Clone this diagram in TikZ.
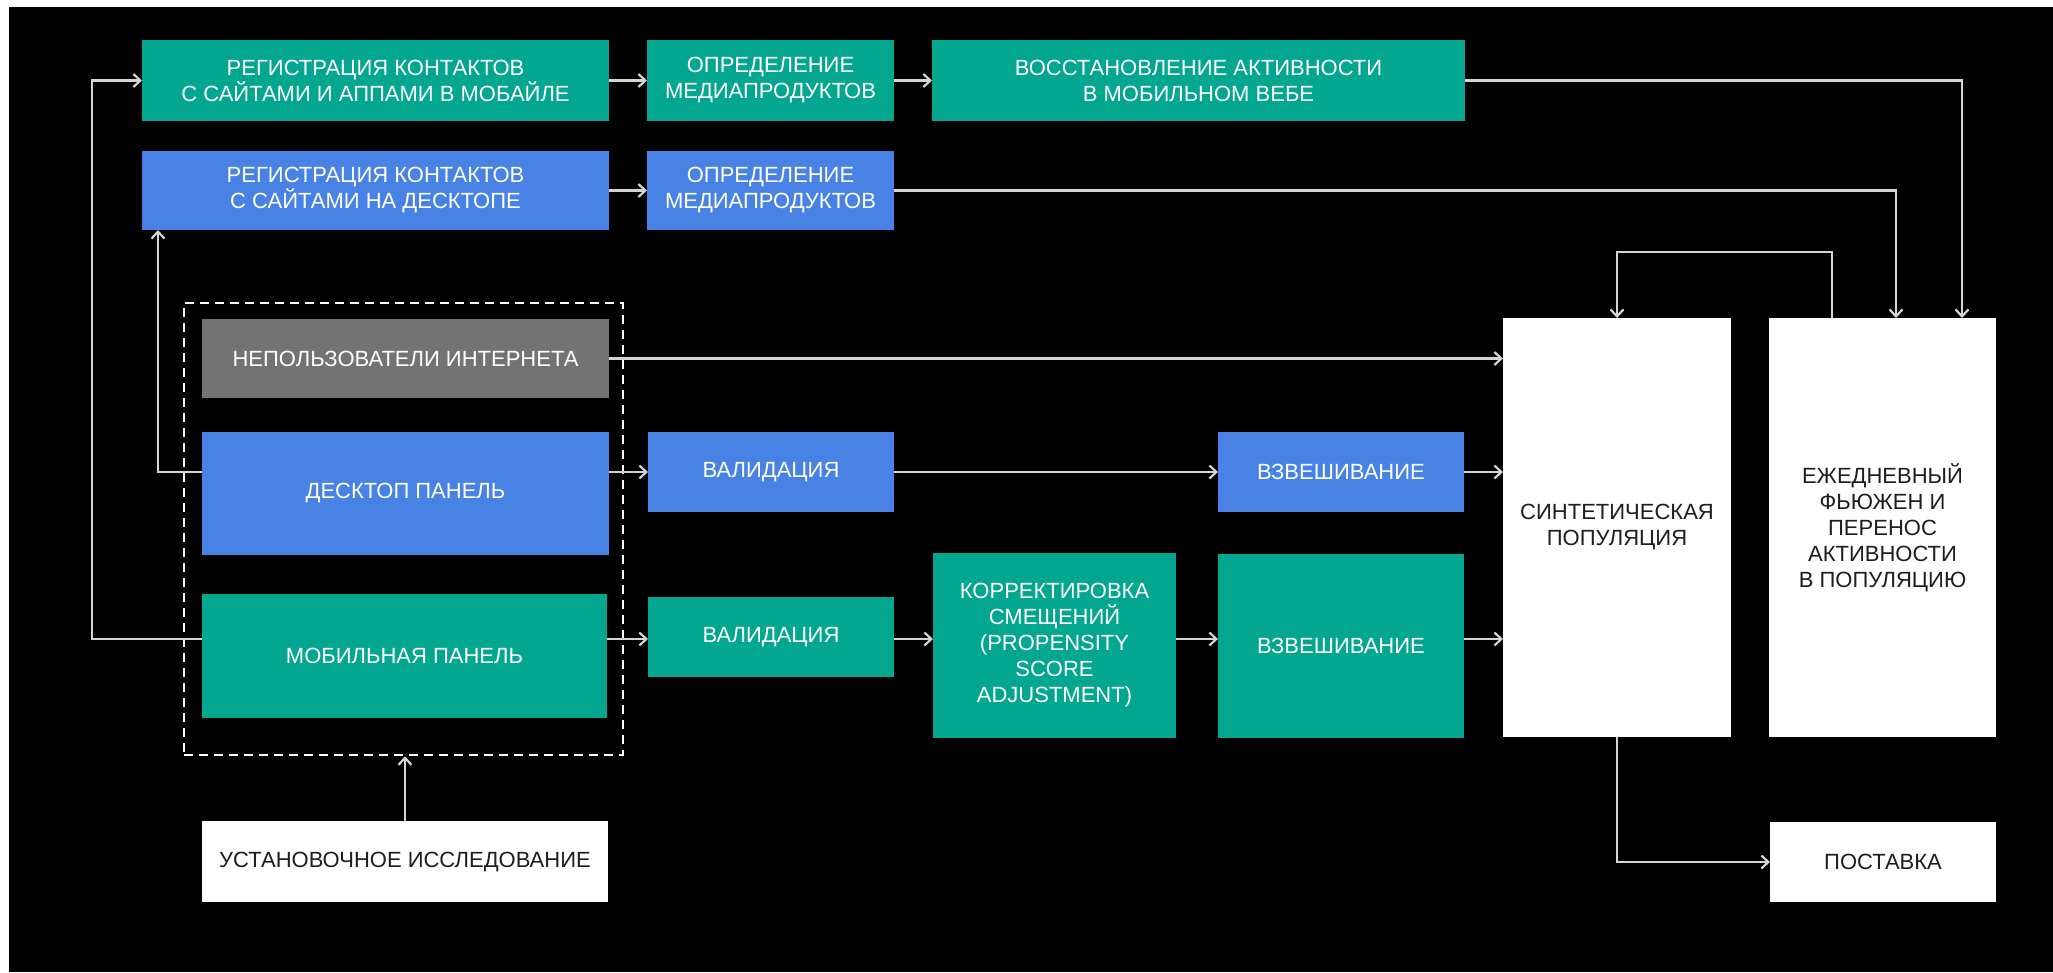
\documentclass[tikz,border=0pt]{standalone}
\usepackage{fontspec}
\setmainfont{Liberation Sans}
\usetikzlibrary{arrows.meta}
\definecolor{tgreen}{RGB}{3,166,142}
\definecolor{tblue}{RGB}{72,130,228}
\definecolor{tgray}{RGB}{115,115,115}
\definecolor{txtdark}{RGB}{30,30,30}
\definecolor{linec}{RGB}{212,212,212}
\tikzset{
  box/.style={rectangle, inner sep=0pt, outer sep=0pt, align=center, text=white,
    font=\fontsize{22}{26}\selectfont},
  sz/.style 2 args={minimum width=#1pt, minimum height=#2pt},
  gbox/.style={box, fill=tgreen},
  bbox/.style={box, fill=tblue},
  ybox/.style={box, fill=tgray},
  wbox/.style={box, fill=white, text=txtdark},
  ln/.style={draw=linec, line width=2.4pt},
  arr/.style={ln, -{Straight Barb[length=7pt,width=13pt,line width=2.2pt]}},
  dashbox/.style={rectangle, inner sep=0pt, draw=white, line width=2.5pt, dash pattern=on 9pt off 6pt}
}
\begin{document}
\begin{tikzpicture}[x=1pt, y=-1pt]
\useasboundingbox (0,0) rectangle (2053,972);
\fill[white] (0,0) rectangle (2053,972);
\fill[black] (9,7) rectangle (2053,972);

% top rows
\node[gbox, sz={467}{81}] (a1) at (375.5,80.5) {РЕГИСТРАЦИЯ КОНТАКТОВ\\С САЙТАМИ И АППАМИ В МОБАЙЛЕ};
\node[gbox, sz={247}{81}] (a2) at (770.5,80.5) {ОПРЕДЕЛЕНИЕ\\МЕДИАПРОДУКТОВ};
\node[gbox, sz={533}{81}] (a3) at (1198.5,80.5) {ВОССТАНОВЛЕНИЕ АКТИВНОСТИ\\В МОБИЛЬНОМ ВЕБЕ};
\node[bbox, sz={467}{79}] (b1) at (375.5,190.5) {РЕГИСТРАЦИЯ КОНТАКТОВ\\С САЙТАМИ НА ДЕСКТОПЕ};
\node[bbox, sz={247}{79}] (b2) at (770.5,190.5) {ОПРЕДЕЛЕНИЕ\\МЕДИАПРОДУКТОВ};

% panels
\node[dashbox, sz={439}{452}] (grp) at (403.5,529) {};
\node[ybox, sz={407}{79}] (n) at (405.5,358.5) {НЕПОЛЬЗОВАТЕЛИ ИНТЕРНЕТА};
\node[bbox, sz={407}{123}] (d) at (405.5,493.5) {ДЕСКТОП ПАНЕЛЬ};
\node[gbox, sz={405}{124}] (m) at (404.5,656) {МОБИЛЬНАЯ ПАНЕЛЬ};

% processing
\node[bbox, sz={246}{80}] (v1) at (771,472) {ВАЛИДАЦИЯ};
\node[gbox, sz={246}{80}] (v2) at (771,637) {ВАЛИДАЦИЯ};
\node[gbox, sz={243}{185}] (k) at (1054.5,645.5) {КОРРЕКТИРОВКА\\СМЕЩЕНИЙ\\(PROPENSITY\\SCORE\\ADJUSTMENT)};
\node[bbox, sz={246}{80}] (w1) at (1341,472) {ВЗВЕШИВАНИЕ};
\node[gbox, sz={246}{184}] (w2) at (1341,646) {ВЗВЕШИВАНИЕ};

% right side
\node[wbox, sz={228}{419}] (s) at (1617,527.5) {СИНТЕТИЧЕСКАЯ\\ПОПУЛЯЦИЯ};
\node[wbox, sz={227}{419}] (f) at (1882.5,527.5) {ЕЖЕДНЕВНЫЙ\\ФЬЮЖЕН И\\ПЕРЕНОС\\АКТИВНОСТИ\\В ПОПУЛЯЦИЮ};
\node[wbox, sz={406}{81}] (u) at (405,861.5) {УСТАНОВОЧНОЕ ИССЛЕДОВАНИЕ};
\node[wbox, sz={226}{80}] (p) at (1883,862) {ПОСТАВКА};

% helper coordinates
\coordinate (r1) at (0,472);
\coordinate (r2) at (0,639);
\coordinate (lx) at (92,0);
\coordinate (ix) at (158,0);
\coordinate (c3) at (1962,0);
\coordinate (c2) at (1896,0);
\coordinate (fbx) at (1832,0);
\coordinate (fbtop) at (0,252);
\coordinate (sdown) at (0,862);

% connectors
\draw[arr] (m.west |- r2) -- (lx |- r2) -- (lx |- a1.west) -- (a1.west);
\draw[arr] (d.west |- r1) -| (ix |- b1.south);
\draw[arr] (a1.east) -- (a2.west);
\draw[arr] (a2.east) -- (a3.west);
\draw[arr] (b1.east) -- (b2.west);
\draw[arr] (a3.east) -| (c3 |- f.north);
\draw[arr] (b2.east) -| (c2 |- f.north);
\draw[arr] (fbx |- f.north) -- (fbx |- fbtop) -| (s.north);
\draw[arr] (n.east) -- (n.east -| s.west);
\draw[arr] (d.east |- r1) -- (v1.west |- r1);
\draw[arr] (v1.east |- r1) -- (w1.west |- r1);
\draw[arr] (w1.east |- r1) -- (s.west |- r1);
\draw[arr] (m.east |- r2) -- (v2.west |- r2);
\draw[arr] (v2.east |- r2) -- (k.west |- r2);
\draw[arr] (k.east |- r2) -- (w2.west |- r2);
\draw[arr] (w2.east |- r2) -- (s.west |- r2);
\draw[arr] (u.north) -- (u.north |- grp.south);
\draw[arr] (s.south) -- (s.south |- sdown) -- (p.west);
\end{tikzpicture}
\end{document}
